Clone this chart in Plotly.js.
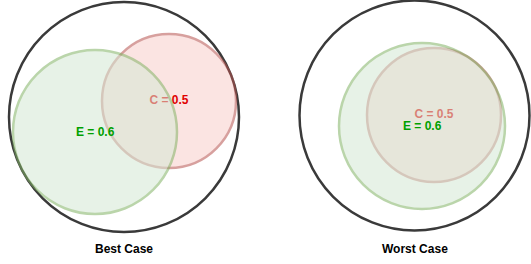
<!DOCTYPE html>
<html>
<head>
<meta charset="utf-8">
<script src="https://cdn.plot.ly/plotly-3.0.1.min.js"></script>
<style>html,body{margin:0;padding:0;background:#fff;}#chart{width:531px;height:264px;}</style>
</head>
<body>
<div id="chart"></div>
<script>
// Panels
var panelNames = ['Best Case', 'Worst Case'];
// Outer (universe) circle per panel
var outerCx = [124, 414.5];
var outerCy = [117, 115.5];
var outerR = [115, 115];
// E circle
var eLabel = 'E';
var eValue = [0.6, 0.6];
var eCx = [95, 422];
var eCy = [132, 126];
var eR = [82, 83];
// C circle
var cLabel = 'C';
var cValue = [0.5, 0.5];
var cCx = [169, 434];
var cCy = [101, 115];
var cR = [67, 67];
var titleY = [249, 249];

var shapes = [];
var annotations = [];
var font = 'Liberation Sans, Arial, sans-serif';

function circ(cx, cy, r, line, fill, width, layer, opacity) {
  return {type: 'circle', xref: 'x', yref: 'y', x0: cx - r, x1: cx + r, y0: cy - r, y1: cy + r,
    line: {color: line, width: width}, fillcolor: fill, layer: layer, opacity: opacity};
}

for (var i = 0; i < panelNames.length; i++) {
  shapes.push(circ(outerCx[i], outerCy[i], outerR[i], '#3a3a3a', 'rgba(0,0,0,0)', 2.5, 'below', 1));
  shapes.push(circ(cCx[i], cCy[i], cR[i], '#b85450', '#f8cecc', 2.5, 'below', 0.55));
  shapes.push(circ(eCx[i], eCy[i], eR[i], '#82b366', '#d5e8d4', 2.5, 'above', 0.55));
  annotations.push({x: eCx[i], y: eCy[i], xref: 'x', yref: 'y', text: '<b>' + eLabel + ' = ' + eValue[i] + '</b>',
    showarrow: false, font: {family: font, size: 12, color: '#00a000'}});
  annotations.push({x: outerCx[i], y: titleY[i], xref: 'x', yref: 'y', text: '<b>' + panelNames[i] + '</b>',
    showarrow: false, font: {family: font, size: 12, color: '#000'}});
}

var cTrace = {
  type: 'scatter', mode: 'text', x: cCx, y: cCy,
  text: cValue.map(function (v) { return '<b>' + cLabel + ' = ' + v + '</b>'; }),
  textposition: 'middle center',
  textfont: {family: font, size: 12, color: '#e00000'},
  hoverinfo: 'skip', showlegend: false
};

var layout = {
  width: 531, height: 264,
  margin: {l: 0, r: 0, t: 0, b: 0},
  paper_bgcolor: '#fff', plot_bgcolor: '#fff',
  xaxis: {range: [0, 531], visible: false, fixedrange: true},
  yaxis: {range: [264, 0], visible: false, fixedrange: true},
  shapes: shapes, annotations: annotations, showlegend: false
};

Plotly.newPlot('chart', [cTrace], layout, {staticPlot: true, displayModeBar: false});
</script>
</body>
</html>
